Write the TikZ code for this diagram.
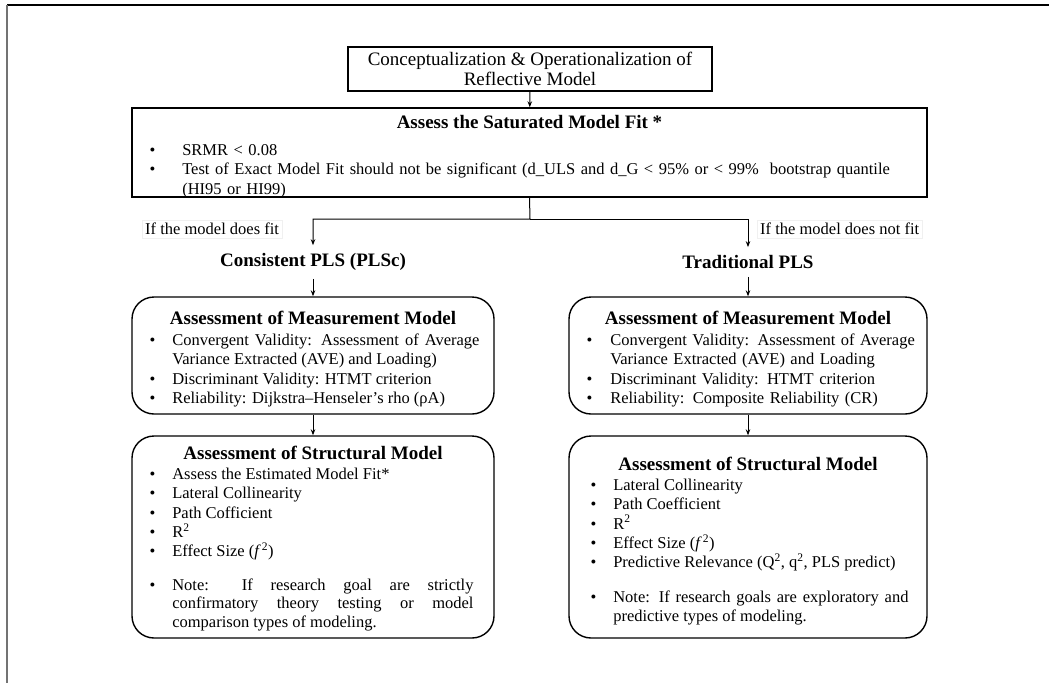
\documentclass[tikz,border=0pt]{standalone}
\usepackage{fontspec}
\setmainfont{Liberation Serif}
\usepackage{enumitem}
\usetikzlibrary{positioning,arrows.meta}
\setlist[itemize]{nosep,label=\textbullet,labelindent=0pt,labelwidth=6pt,align=left,leftmargin=*}
\newcommand{\bodysize}{\fontsize{16.5}{19.2}\selectfont}
\newcommand{\headsize}{\fontsize{19}{22}\selectfont}
\hyphenpenalty=10000

\begin{document}
\begin{tikzpicture}[x=1pt,y=-1pt,
  sqbox/.style={draw,line width=1.4pt},
  roundbox/.style={draw,line width=1.4pt,rounded corners=22pt},
  boxtitle/.style={font=\headsize\bfseries,inner sep=0pt},
  heading/.style={font=\headsize\bfseries,inner xsep=0pt,inner ysep=8pt},
  boxlist/.style={inner sep=0pt,align=justify,font=\bodysize},
  branchlabel/.style={font=\bodysize,draw=black!6,inner sep=3pt,anchor=west},
  arrow/.style={-{Stealth[length=6pt,width=4.5pt]},line width=1pt}]
\useasboundingbox (0,0) rectangle (1049,683);

% page frame
\draw[line width=1.2pt] (7,5) -- (1049,5);
\draw[black!55,line width=1.5pt] (7,5) -- (7,683);

% top of the flow
\node[sqbox,minimum width=364pt,minimum height=44pt,align=center,inner sep=0pt,
  font=\fontsize{19}{20}\selectfont] (concept) at (530,69)
  {Conceptualization \& Operationalization of\\Reflective Model};

\node[sqbox,minimum width=795pt,minimum height=89pt,inner sep=0pt] (satfit) at (529.5,152.5) {};
\node[boxtitle,below=8pt of satfit.north] (sattitle) {Assess the Saturated Model Fit *};
\node[boxlist,align=left,text width=770pt,below right=29pt and 18pt of satfit.north west] (satlist) {%
  \begin{itemize}[labelsep=27pt]
  \item SRMR < 0.08
  \item Test of Exact Model Fit should not be significant (d\_ULS and d\_G < 95\% or < 99\%~~bootstrap quantile\\(HI95 or HI99)
  \end{itemize}};

% split into the two ways
\coordinate (split) at (530,219);
\node[heading] (plsc) at (313,262) {Consistent PLS (PLSc)};
\node[heading] (trad) at (748,262) {Traditional PLS};
\node[branchlabel] (fitlabel) at (142,229) {If the model does fit};
\node[branchlabel] (nofitlabel) at (757,229) {If the model does not fit};

\draw[arrow] (satfit.south) -- (split) -| (plsc.north);
\draw[arrow] (split) -| (trad.north);

% measurement model
\node[roundbox,minimum width=362pt,minimum height=117pt] (measL) at (313,355.5) {};
\node[boxtitle,below=15pt of measL.north] (measLtitle) {Assessment of Measurement Model};
\node[boxlist,text width=330pt,below right=30pt and 18pt of measL.north west] (measLlist) {%
  \begin{itemize}[labelsep=17pt]
  \item Convergent Validity: Assessment of Average Variance Extracted (AVE) and Loading)
  \item Discriminant Validity: HTMT criterion
  \item Reliability: Dijkstra--Henseler's rho (ρA)
  \end{itemize}};

\node[roundbox,minimum width=358pt,minimum height=117pt] (measR) at (748,355.5) {};
\node[boxtitle,below=15pt of measR.north] (measRtitle) {Assessment of Measurement Model};
\node[boxlist,align=left,text width=330pt,below right=30pt and 18pt of measR.north west] (measRlist) {%
  \begin{itemize}[labelsep=18pt]
  \item Convergent Validity: Assessment of Average Variance Extracted (AVE) and Loading
  \item Discriminant Validity: HTMT criterion
  \item Reliability: Composite Reliability (CR)
  \end{itemize}};

% structural model
\node[roundbox,minimum width=362pt,minimum height=202pt] (strL) at (313,537) {};
\node[boxtitle,below=11pt of strL.north] (strLtitle) {Assessment of Structural Model};
\node[boxlist,text width=324pt,below right=25pt and 18pt of strL.north west] (strLlist) {%
  \begin{itemize}[labelsep=17pt]
  \item Assess the Estimated Model Fit*
  \item Lateral Collinearity
  \item Path Cofficient
  \item R\textsuperscript{2}
  \item Effect Size (\textit{f}\kern1pt\textsuperscript{2})\par\vspace{15pt}
  \item \fontsize{16.5}{18.6}\selectfont Note: If research goal are strictly\linebreak confirmatory theory testing or model\linebreak comparison types of modeling.
  \end{itemize}};

\node[roundbox,minimum width=358pt,minimum height=202pt] (strR) at (748,537) {};
\node[boxtitle,below=22pt of strR.north] (strRtitle) {Assessment of Structural Model};
\node[boxlist,text width=318pt,below right=36pt and 22pt of strR.north west] (strRlist) {%
  \begin{itemize}[labelsep=17pt]
  \item Lateral Collinearity
  \item Path Coefficient
  \item R\textsuperscript{2}
  \item Effect Size (\textit{f}\kern1pt\textsuperscript{2})
  \item Predictive Relevance (Q\textsuperscript{2}, q\textsuperscript{2}, PLS predict)\par\vspace{16pt}
  \item Note: If research goals are exploratory and\linebreak predictive types of modeling.
  \end{itemize}};

\draw[arrow] (concept) -- (satfit);
\draw[arrow] (plsc) -- (measL);
\draw[arrow] (trad) -- (measR);
\draw[arrow] (measL) -- (strL);
\draw[arrow] (measR) -- (strR);
\end{tikzpicture}
\end{document}
